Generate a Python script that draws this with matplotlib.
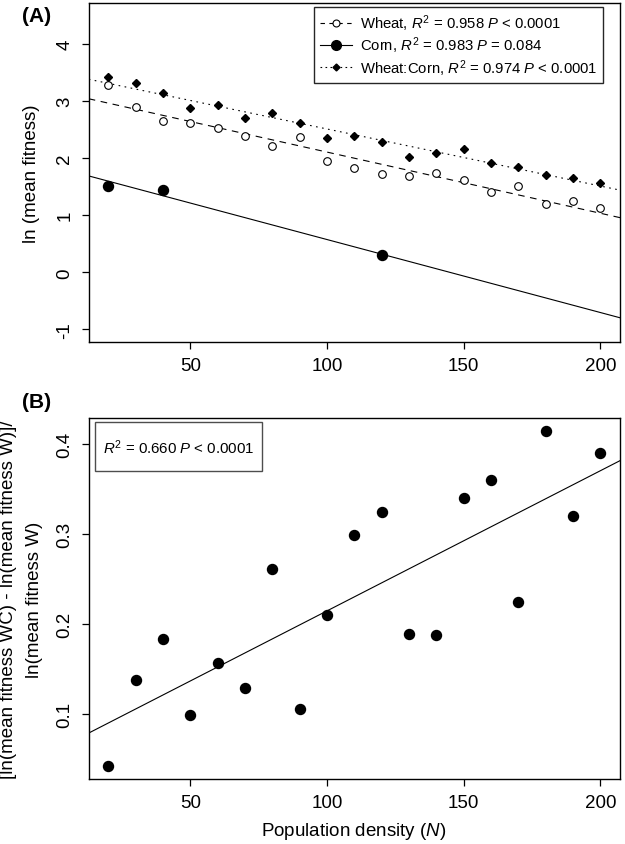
import numpy as np
import matplotlib
matplotlib.use('Agg')
import matplotlib.pyplot as plt
from matplotlib.lines import Line2D
from matplotlib.patches import Rectangle

plt.rcParams['font.family'] = ['Liberation Sans', 'DejaVu Sans']
plt.rcParams['mathtext.fontset'] = 'custom'
plt.rcParams['mathtext.rm'] = 'Liberation Sans'
plt.rcParams['mathtext.it'] = 'Liberation Sans:italic'
plt.rcParams['axes.unicode_minus'] = False

# population density N
density = [20, 30, 40, 50, 60, 70, 80, 90, 100, 110, 120, 130, 140, 150, 160, 170, 180, 190, 200]
# ln(mean fitness), wheat alone
ln_wheat = [3.28, 2.90, 2.65, 2.62, 2.53, 2.39, 2.22, 2.37, 1.95, 1.83, 1.72, 1.69, 1.75, 1.61, 1.41, 1.51, 1.20, 1.25, 1.13]
# ln(mean fitness), wheat with corn
ln_wheat_corn = [3.43, 3.31, 3.15, 2.88, 2.94, 2.70, 2.80, 2.62, 2.36, 2.39, 2.29, 2.02, 2.09, 2.17, 1.92, 1.84, 1.71, 1.65, 1.57]
# corn only measured at three densities
corn_density = [20, 40, 120]
ln_corn = [1.52, 1.44, 0.30]
# relative change (panel B)
rel_change = [0.043, 0.138, 0.184, 0.099, 0.157, 0.129, 0.261, 0.106, 0.210, 0.299,
              0.324, 0.189, 0.188, 0.340, 0.360, 0.225, 0.414, 0.320, 0.390]

legend_labels = ['Wheat, $R^2$ = 0.958 $P$ < 0.0001',
                 'Corn, $R^2$ = 0.983 $P$ = 0.084',
                 'Wheat:Corn, $R^2$ = 0.974 $P$ < 0.0001']
b_label = '$R^2$ = 0.660 $P$ < 0.0001'

W, H = 625, 845
fig = plt.figure(figsize=(W / 100, H / 100), dpi=100)


def px_axes(left, top, right, bottom):
    return fig.add_axes([left / W, 1 - bottom / H, (right - left) / W, (bottom - top) / H])


def r_style(ax):
    for sp in ax.spines.values():
        sp.set_linewidth(1.0)
        sp.set_color('black')
    ax.tick_params(direction='out', length=5, width=0.9, labelsize=13.5, pad=6)
    ax.tick_params(axis='y', labelrotation=90)
    for lab in ax.get_yticklabels():
        lab.set_va('center')
    ax.set_xticks([50, 100, 150, 200])
    ax.set_xlim(12.8, 207.2)


def fit_line(ax, x, y, **kw):
    slope, icpt = np.polyfit(x, y, 1)
    ax.axline((0, icpt), slope=slope, color='black', lw=0.8, **kw)


x = np.array(density)

# ---- panel A
axA = px_axes(88.7, 4, 620, 343)
fit_line(axA, x, ln_wheat, dashes=(6, 5))
fit_line(axA, corn_density, ln_corn)
fit_line(axA, x, ln_wheat_corn, dashes=(1.5, 4))
axA.plot(x, ln_wheat, 'o', mfc='white', mec='black', ms=5.5, mew=0.8)
axA.plot(corn_density, ln_corn, 'o', color='black', ms=7.2)
axA.plot(x, ln_wheat_corn, 'D', color='black', ms=3.8)
axA.set_ylim(-1.22, 4.72)
axA.set_yticks([-1, 0, 1, 2, 3, 4])
r_style(axA)

handles = [
    Line2D([], [], color='black', lw=0.8, dashes=(4, 4), marker='o', mfc='white', mec='black', ms=5, mew=0.8),
    Line2D([], [], color='black', lw=0.8, marker='o', ms=7),
    Line2D([], [], color='black', lw=0.8, dashes=(1.5, 3), marker='D', ms=3.5),
]
leg = axA.legend(handles, legend_labels, loc='upper right', bbox_to_anchor=(0.968, 0.988),
                 borderaxespad=0, fontsize=10.7, frameon=True, fancybox=False, framealpha=1,
                 edgecolor='0.15', labelspacing=0.12, handlelength=2.2, handletextpad=0.55,
                 borderpad=0.35)
leg.get_frame().set_linewidth(1.0)

# ---- panel B
axB = px_axes(88.7, 419, 620, 780)
fit_line(axB, x, rel_change)
axB.plot(x, rel_change, 'o', color='black', ms=7.2)
span = max(rel_change) - min(rel_change)
axB.set_ylim(min(rel_change) - 0.04 * span, max(rel_change) + 0.04 * span)
axB.set_yticks([0.1, 0.2, 0.3, 0.4])
r_style(axB)

bw, bh = 167 / 531.3, 49 / 361
bx, by = (95 - 88.7) / 531.3, 1 - (472 - 419) / 361
axB.add_patch(Rectangle((bx, by), bw, bh, transform=axB.transAxes, fill=False,
                        edgecolor='0.3', lw=1.0, zorder=5))
axB.text(bx + bw / 2, by + bh / 2, b_label, transform=axB.transAxes,
         ha='center', va='center', fontsize=10.8)

# ---- labels
fig.text(22 / W, 1 - 16 / H, '(A)', fontsize=15, fontweight='bold', ha='left', va='center')
fig.text(22 / W, 1 - 403 / H, '(B)', fontsize=15, fontweight='bold', ha='left', va='center')
fig.text(32 / W, 1 - 174 / H, 'ln (mean fitness)', rotation=90, fontsize=13.5, ha='center', va='center')
fig.text(9 / W, 1 - 600 / H, '[ln(mean fitness WC) - ln(mean fitness W)]/', rotation=90,
         fontsize=13.5, ha='center', va='center')
fig.text(35 / W, 1 - 600 / H, 'ln(mean fitness W)', rotation=90, fontsize=13.5,
         ha='center', va='center')
fig.text(354 / W, 1 - 832 / H, 'Population density ($N$)', fontsize=13.5, ha='center', va='center')

fig.savefig('out.png', dpi=100)
